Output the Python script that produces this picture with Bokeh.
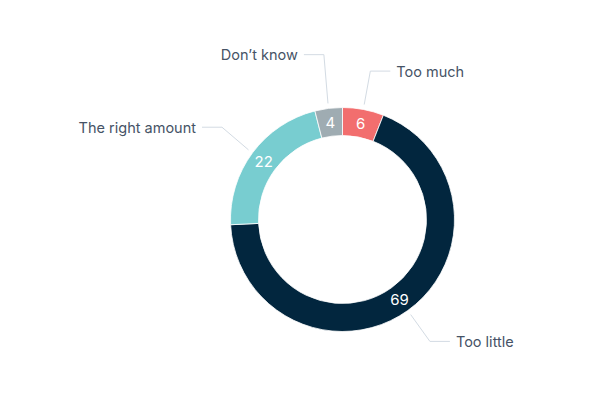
import math
from bokeh.plotting import figure
from bokeh.models import Range1d, ColumnDataSource
from bokeh.core.properties import value
from bokeh.embed import file_html
from bokeh.resources import INLINE

# ---- data ----
categories = ["Too much", "Too little", "The right amount", "Don\u2019t know"]
values = [6, 69, 22, 4]
colors = ["#f26e6e", "#02263e", "#78cdd0", "#9facb2"]

# ---- layout ----
W, H = 600, 400
CX, CY = 342, 400 - 219
R_OUT, R_IN = 112, 84
R_VAL = 98
R_CONN0, R_CONN1 = 117, 150
label_dy = [1, 0, 3, 16]  # upward shift (avoid overlap)
FONT = "Inter"

total = sum(values)
cum = 0
starts, ends, mids = [], [], []
for v in values:
    a0 = cum / total * 360
    cum += v
    a1 = cum / total * 360
    starts.append(math.radians(90 - a0))
    ends.append(math.radians(90 - a1))
    mids.append((a0 + a1) / 2)

p = figure(width=W, height=H, x_range=Range1d(0, W), y_range=Range1d(0, H),
           output_backend="svg", toolbar_location=None, min_border=0)
p.axis.visible = False
p.grid.visible = False
p.outline_line_color = None
p.background_fill_color = "white"
p.border_fill_color = "white"

src = ColumnDataSource(dict(start=starts, end=ends, color=colors))
p.annular_wedge(x=CX, y=CY, inner_radius=R_IN, outer_radius=R_OUT,
                start_angle="start", end_angle="end", direction="clock",
                fill_color="color", line_color="white", line_width=0.8, source=src)

# value labels
vx = [CX + R_VAL * math.sin(math.radians(m)) for m in mids]
vy = [CY + R_VAL * math.cos(math.radians(m)) for m in mids]
p.text(x=vx, y=vy, text=[str(v) for v in values], text_color="white",
       text_font=value(FONT), text_font_size="15px", text_align="center",
       text_baseline="middle")

# connectors and category labels
xs, ys = [], []
for i, m in enumerate(mids):
    s, c = math.sin(math.radians(m)), math.cos(math.radians(m))
    x0, y0 = CX + R_CONN0 * s, CY + R_CONN0 * c
    x1, y1 = CX + R_CONN1 * s, CY + R_CONN1 * c + label_dy[i]
    side = 1 if s >= 0 else -1
    x2 = x1 + side * 20
    xs.append([x0, x1, x2])
    ys.append([y0, y1, y1])
    p.text(x=[x2 + side * 6], y=[y1], text=[categories[i]],
           text_color="#465366", text_font=value(FONT), text_font_size="14.5px",
           text_align="left" if side > 0 else "right", text_baseline="middle")
p.multi_line(xs=xs, ys=ys, line_color="#d3dbe3", line_width=1)

open("out.html", "w").write(file_html(p, INLINE))
